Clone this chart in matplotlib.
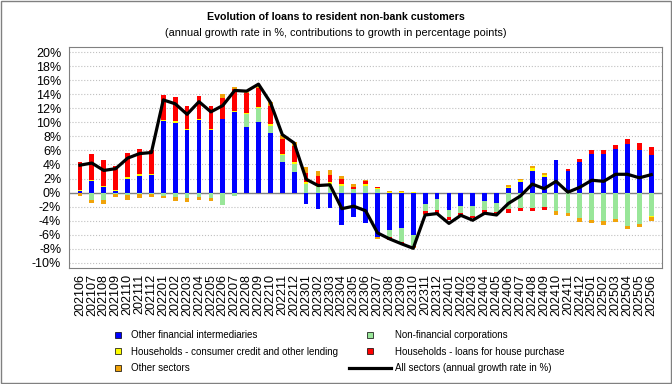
"""
Stacked contributions to the growth of loans to resident non-bank customers,
with the annual growth rate of all sectors drawn on top as a line.
"""

import numpy as np
import matplotlib
matplotlib.use("Agg")
import matplotlib.pyplot as plt
from matplotlib.lines import Line2D
from matplotlib.patches import Rectangle
from matplotlib.ticker import FuncFormatter

plt.rcParams["font.family"] = ["Liberation Sans", "DejaVu Sans"]

months = [
    "202106", "202107", "202108", "202109", "202110", "202111", "202112",
    "202201", "202202", "202203", "202204", "202205", "202206", "202207",
    "202208", "202209", "202210", "202211", "202212",
    "202301", "202302", "202303", "202304", "202305", "202306", "202307",
    "202308", "202309", "202310", "202311", "202312",
    "202401", "202402", "202403", "202404", "202405", "202406", "202407",
    "202408", "202409", "202410", "202411", "202412",
    "202501", "202502", "202503", "202504", "202505", "202506",
]

# contributions in percentage points
other_fin = [
    0.2, 1.65, 0.8, 0.15, 2.0, 2.4, 2.55,
    10.2, 9.95, 8.85, 10.35, 8.9, 10.5, 11.5,
    9.3, 10.05, 8.45, 4.35, 2.95,
    -1.6, -2.4, -2.2, -4.6, -3.45, -4.3, -6.4,
    -5.35, -5.0, -6.05, -1.6, -0.95,
    -2.5, -1.85, -1.85, -1.15, -1.5, 0.6, 1.45,
    3.1, 2.15, 4.65, 3.1, 4.4,
    5.5, 5.5, 6.2, 6.85, 6.1, 5.3,
]
non_fin_corp = [
    -0.1, -1.0, -1.1, -0.2, -0.4, -0.2, -0.2,
    -0.5, -0.65, -0.85, -0.6, -0.75, -1.75, -0.55,
    1.85, 2.0, 1.1, 1.0, 1.15,
    1.25, 0.75, 1.25, 1.0, 0.45, 1.0, 0.45,
    -0.95, -2.0, -1.5, -1.1, -1.5,
    -1.0, -1.0, -1.5, -1.4, -1.3, -2.4, -2.25,
    -2.25, -2.1, -2.7, -2.95, -3.7,
    -3.9, -4.1, -3.8, -4.75, -4.5, -3.3,
]
hh_consumer = [
    0.1, 0.15, 0.2, 0.15, 0.2, 0.25, 0.15,
    0.2, 0.2, 0.2, 0.2, 0.2, 0.05, 0.1,
    0.2, 0.2, 0.2, 0.15, 0.2,
    0.2, 0.2, 0.2, 0.2, 0.1, 0.2, 0.15,
    0.05, 0.05, 0.1, 0.0, 0.0,
    0.0, 0.0, 0.0, 0.0, 0.0, 0.2, 0.35,
    0.35, 0.35, 0.0, 0.0, 0.0,
    0.0, 0.0, 0.0, 0.0, 0.0, -0.15,
]
hh_house = [
    4.0, 3.75, 3.6, 3.55, 3.45, 3.55, 3.3,
    3.45, 3.45, 3.3, 3.25, 3.2, 2.9, 3.1,
    2.85, 2.65, 2.55, 2.15, 2.3,
    1.35, 1.4, 1.1, 0.7, 0.3, 0.4, 0.2,
    -0.4, -0.25, -0.2, -0.35, -0.45,
    -0.35, -0.45, -0.3, -0.4, -0.1, -0.5, -0.45,
    -0.35, -0.35, 0.0, 0.2, 0.45,
    0.5, 0.6, 0.6, 0.8, 0.9, 1.15,
]
other_sectors = [
    -0.4, -0.5, -0.5, -0.5, -0.6, -0.55, -0.4,
    -0.3, -0.5, -0.5, -0.4, -0.4, 0.65, 0.3,
    0.15, 0.25, 0.55, 0.6, 0.55,
    0.8, 0.7, 0.6, 0.45, 0.35, 0.15, -0.25,
    0.2, 0.1, -0.15, -0.15, -0.15,
    -0.1, 0.0, 0.0, 0.0, -0.2, 0.25, 0.2,
    0.35, 0.3, -0.5, -0.35, -0.45,
    -0.45, -0.5, -0.45, -0.45, -0.45, -0.6,
]
# annual growth rate in %
all_sectors = [
    3.9, 4.2, 3.15, 3.4, 4.9, 5.55, 5.7,
    13.2, 12.65, 11.15, 12.95, 11.5, 12.4, 14.55,
    14.45, 15.45, 12.85, 8.25, 7.05,
    1.9, 1.0, 1.1, -2.3, -1.95, -2.6, -5.75,
    -6.6, -7.3, -7.95, -3.2, -3.0,
    -4.4, -3.25, -3.95, -2.95, -3.2, -1.55, -0.5,
    1.2, 0.55, 1.6, 0.05, 0.75,
    1.75, 1.6, 2.6, 2.6, 2.1, 2.55,
]

series = [
    ("Other financial intermediaries", other_fin, "#0000FF"),
    ("Non-financial corporations", non_fin_corp, "#99E699"),
    ("Households - consumer credit and other lending", hh_consumer, "#FFFF00"),
    ("Households - loans for house purchase", hh_house, "#FF0000"),
    ("Other sectors", other_sectors, "#F0A30A"),
]

fig = plt.figure(figsize=(6.72, 3.84), dpi=100)
ax = fig.add_axes([0.1034, 0.3013, 0.8817, 0.5755])

x = np.arange(len(months))
pos_base = np.zeros(len(months))
neg_base = np.zeros(len(months))
for name, values, color in series:
    v = np.array(values)
    bottom = np.where(v >= 0, pos_base, neg_base)
    ax.bar(x, v, width=0.4, bottom=bottom, color=color, linewidth=0, zorder=2)
    pos_base = pos_base + np.clip(v, 0, None)
    neg_base = neg_base + np.clip(v, None, 0)

ax.plot(x, all_sectors, color="black", linewidth=2.3, zorder=3)
ax.axhline(0, color="#808080", linewidth=1, zorder=1.5)

ax.set_xlim(-0.88, 48.9)
ax.set_ylim(-10.8, 20.7)
ax.set_yticks(np.arange(-10, 21, 2))
ax.yaxis.set_major_formatter(FuncFormatter(lambda v, p: f"{v:.0f}%"))
ax.set_xticks(x)
ax.set_xticklabels(months, rotation=90, fontsize=9)
ax.tick_params(axis="y", labelsize=9, length=0, pad=6)
ax.tick_params(axis="x", length=0, pad=4)
ax.yaxis.grid(True, color="#C0C0C0", linestyle=":", linewidth=0.8, zorder=0)
ax.set_axisbelow(True)
for side in ax.spines.values():
    side.set_color("#808080")

fig.text(0.5, 1 - 17 / 384, "Evolution of loans to resident non-bank customers",
         ha="center", va="center", fontsize=7.7, fontweight="bold")
fig.text(0.5, 1 - 33 / 384,
         "(annual growth rate in %, contributions to growth in percentage points)",
         ha="center", va="center", fontsize=7.8)


def square(color):
    return Line2D([], [], linestyle="none", marker="s", markersize=5,
                  markerfacecolor=color, markeredgecolor="black", markeredgewidth=0.5)


left_items = [series[0], series[2], series[4]]
right_items = [series[1], series[3]]

fig.legend([square(c) for _, _, c in left_items], [n for n, _, _ in left_items],
           loc="upper left", bbox_to_anchor=(114 / 672, 1 - 330 / 384),
           frameon=False, fontsize=7, handlelength=0.9, handletextpad=0.85,
           labelspacing=0.69, borderpad=0, borderaxespad=0)
right_handles = [square(c) for _, _, c in right_items]
right_handles.append(Line2D([], [], color="black", linewidth=2.3))
right_labels = [n for n, _, _ in right_items] + ["All sectors (annual growth rate in %)"]
fig.legend(right_handles, right_labels,
           loc="upper left", bbox_to_anchor=(349 / 672, 1 - 330 / 384),
           frameon=False, fontsize=7, handlelength=4.3, handletextpad=0.45,
           labelspacing=0.69, borderpad=0, borderaxespad=0)

fig.patches.append(Rectangle((0.001, 0.002), 0.997, 0.996, transform=fig.transFigure,
                             fill=False, edgecolor="#808080", linewidth=1))

fig.savefig("out.png", dpi=100)
